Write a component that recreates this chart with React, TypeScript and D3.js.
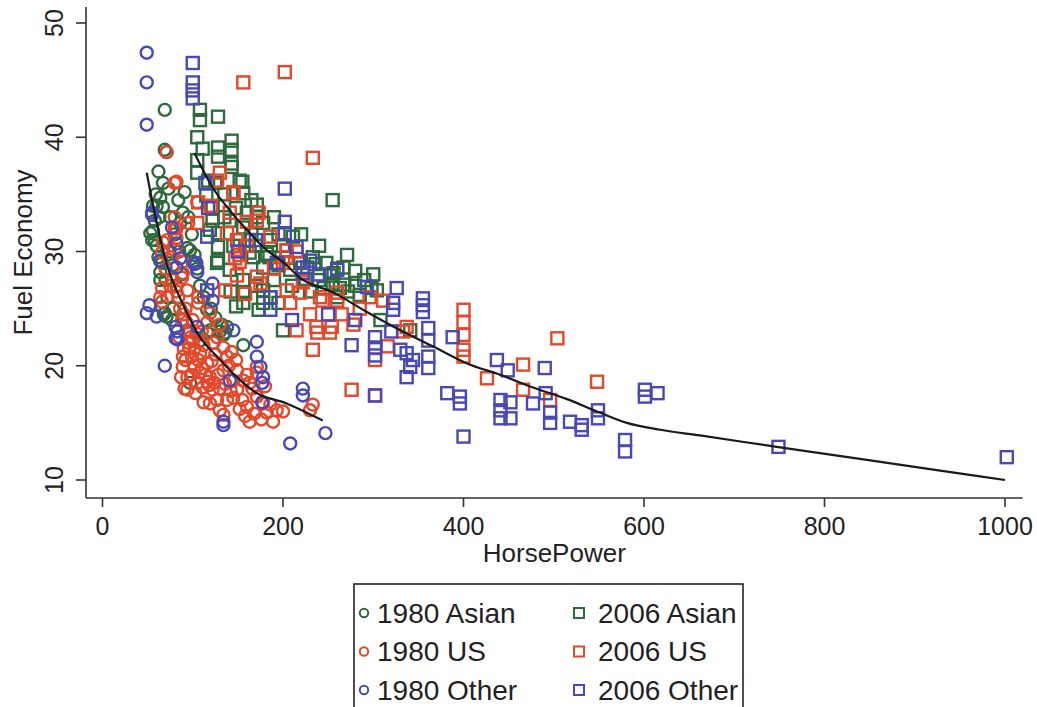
import React, { useEffect, useRef } from 'react';
import * as d3 from 'd3';

// [horsepower, fuel economy]
const asian1980 = [
  [69, 42.4], [71, 38.7], [69, 38.9], [62, 37], [67, 36], [64, 34.7], [67, 33.9], [91, 35.2],
  [58, 32.7], [89, 33.4], [95, 33], [53, 31.6], [56, 31.8], [55, 31], [97, 30.1], [94, 30.3],
  [66, 29], [64, 28.2], [100, 29.1], [105, 28.5], [102, 29.7], [66, 25.1], [71, 24.3], [138, 23.4],
  [134, 22.7], [116, 22.9], [97, 18.5], [60, 30.5], [62, 29.5], [70, 27.5], [72, 26], [68, 24.5],
  [75, 33], [80, 31.5], [85, 30], [88, 28], [78, 28.8], [60, 34], [56, 34], [73, 35.5],
  [112, 26], [120, 25], [125, 24.2], [130, 23], [108, 27], [78, 25], [64, 29.2], [64, 27.5],
  [69, 24.6], [77, 24], [116, 24.9], [108, 22.2], [132, 23.6], [156, 21.8], [119, 23.1], [136, 22.9],
  [59, 35], [63, 33], [58, 31], [86, 32.5], [99, 31.5], [74, 30], [82, 27], [84, 34.5],
];

const us1980 = [
  [71, 38.7], [80, 36], [82, 36.1], [105, 34.3], [80, 33], [82, 32], [95, 32.5], [67, 30.8],
  [80, 32.1], [82, 31.2], [66, 29.9], [89, 28.1], [80, 30.1], [89, 29.1], [66, 25.6], [88, 27.7],
  [94, 26.6], [106, 26], [106, 25.5], [119, 24.6], [88, 24], [94, 23.1], [100, 22.2], [89, 20.8],
  [89, 19.9], [94, 19], [91, 18], [108, 21.1], [116, 20.2], [119, 19], [111, 18.1], [122, 17.9],
  [134, 19.6], [138, 20.8], [134, 21.6], [127, 22.5], [130, 23.6], [116, 23.8], [149, 19.6], [156, 18.7],
  [163, 18.5], [171, 19.9], [171, 19.4], [149, 17.9], [138, 17], [130, 16.1], [134, 15.7], [163, 15.1],
  [160, 16.4], [182, 15.9], [189, 15.1], [193, 16.1], [233, 16.6], [230, 16.1], [171, 17.3], [178, 16.7],
  [108, 19.4], [105, 18.5], [116, 18.6], [145, 18.7], [127, 17], [119, 16.7], [94, 17.9], [64, 26],
  [66, 26.8], [70, 28.5], [75, 27], [100, 24], [110, 23], [96, 21.5], [102, 20], [85, 22.5],
  [92, 25], [125, 21], [140, 20], [145, 17.2], [155, 17], [98, 19.2], [90, 21.5], [97, 23],
  [104, 22.8], [112, 21.8], [121, 20.4], [128, 19.2], [103, 17.6], [112, 16.8], [87, 19], [84, 26],
  [72, 31], [75, 29.5], [78, 27.5], [82, 26.5], [86, 25], [90, 24.5], [93, 23.8], [98, 22.5],
  [102, 21.5], [106, 20.5], [110, 19.8], [114, 19.2], [118, 18.3], [124, 18.5], [130, 18], [136, 18.4],
  [142, 17.8], [152, 16.2], [158, 15.6], [168, 15.8], [176, 15.3], [186, 16.6], [200, 16], [92, 20.5],
  [99, 20.8], [95, 22], [123, 22], [143, 21.2], [148, 20.5], [160, 19.2], [166, 18], [180, 18.2],
];

const other1980 = [
  [49, 47.4], [49, 44.8], [49, 41.1], [49, 24.6], [52, 25.3], [69, 20], [55, 33.2], [77, 32.1],
  [104, 29], [105, 28.2], [122, 27.2], [122, 25.7], [81, 23.4], [81, 22.4], [145, 23.1], [171, 22.1],
  [171, 20.8], [175, 19.9], [178, 19], [177, 18.5], [222, 18], [222, 17.4], [134, 15.1], [134, 14.8],
  [208, 13.2], [247, 14.1], [177, 16.8], [141, 18.7], [105, 23.4], [60, 24.3], [83, 23], [83, 22.3],
  [82, 30.7], [86, 29.4], [82, 28.6], [102, 28.9], [64, 29.2], [55, 33.4],
];

const asian2006 = [
  [108, 42.4], [108, 41.5], [128, 41.8], [105, 40], [143, 39.7], [143, 38.9], [111, 39], [128, 38.3],
  [143, 37.4], [105, 36.9], [155, 36.1], [125, 36], [255, 34.5], [128, 39.1], [105, 38], [143, 37.7],
  [117, 36.2], [152, 36.2], [156, 35.1], [115, 34.9], [171, 34.1], [122, 33.8], [122, 32.7], [119, 31.9],
  [160, 33.4], [171, 33], [141, 32.7], [156, 32.1], [178, 32.5], [128, 31.6], [128, 30.4], [128, 29.2],
  [152, 31], [163, 29.9], [186, 31], [211, 31.3], [204, 30.1], [233, 29.5], [248, 29], [267, 28.6],
  [271, 29.7], [256, 28.1], [219, 29], [178, 28.6], [141, 28.4], [304, 26.6], [308, 24], [341, 23.1],
  [127, 29], [156, 27.5], [156, 26.4], [156, 25.5], [178, 26.6], [178, 25.5], [200, 23.1], [167, 29.5],
  [227, 28.6], [173, 24.9], [252, 27.9], [268, 27.1], [240, 27.5], [190, 27.5], [210, 27], [230, 26.5],
  [260, 26], [280, 27], [200, 30.5], [190, 33], [165, 34.5], [135, 35], [220, 31.5], [240, 30.5],
  [290, 27.5], [300, 28], [260, 28.5], [280, 28.3], [165, 31.5], [185, 29.5], [145, 30.5], [195, 28.8],
  [135, 33], [148, 33.8], [162, 31], [170, 30.5], [182, 29.8], [195, 31.5], [208, 28.4], [225, 27.6],
  [236, 28.9], [245, 26.8], [255, 27.2], [263, 26.8], [272, 26.5], [285, 26.2], [298, 26.8], [170, 27],
  [186, 26], [195, 25.5], [142, 26.5], [148, 25.2],
];

const us2006 = [
  [156, 44.8], [202, 45.7], [233, 38.2], [130, 36.9], [127, 36.2], [145, 35.1], [141, 33.4], [171, 32.7],
  [173, 33.4], [160, 32.6], [105, 32.5], [106, 34.3], [145, 35.2], [138, 31.6], [149, 31], [152, 29.7],
  [152, 29.1], [204, 30.1], [204, 29.5], [222, 28.1], [171, 27.8], [186, 31.3], [147, 29.4], [175, 27.2],
  [200, 29], [204, 26.6], [208, 25.5], [215, 23.1], [238, 22.9], [252, 22.9], [233, 21.4], [219, 26.4],
  [244, 25.7], [260, 26.4], [149, 27.9], [158, 26.3], [136, 26.6], [222, 27.3], [400, 24.9], [400, 23.8],
  [400, 22.7], [400, 21.4], [400, 20.8], [504, 22.4], [466, 20.1], [426, 18.9], [466, 17.9], [548, 18.6],
  [276, 17.9], [302, 17.4], [316, 21.7], [302, 20.5], [337, 23.4], [333, 23], [296, 26], [311, 25.7],
  [241, 26], [260, 25.7], [278, 23.6], [254, 23.4], [237, 23.4], [496, 17], [230, 24.5], [190, 28.5],
  [265, 24.5], [285, 25], [215, 30], [160, 30.5], [120, 34],
];

const other2006 = [
  [100, 46.5], [100, 44.8], [100, 44.1], [100, 43.4], [202, 35.5], [202, 32.6], [202, 31.6], [114, 36],
  [117, 33.8], [116, 31.3], [215, 30.4], [222, 28.6], [260, 28.4], [116, 26.6], [186, 26], [186, 24.9],
  [222, 28.1], [193, 29], [230, 29.2], [293, 26.9], [326, 26.8], [322, 25.5], [322, 24.9], [355, 25.9],
  [355, 25.3], [355, 24.7], [361, 23.3], [361, 22.2], [361, 20.8], [361, 19.8], [337, 21.1], [344, 20.5],
  [341, 19.9], [337, 19], [276, 21.8], [302, 22.5], [302, 21.6], [302, 20.9], [302, 17.4], [330, 21.4],
  [388, 22.5], [382, 17.6], [396, 17.3], [396, 16.7], [400, 13.8], [437, 20.5], [449, 19.6], [490, 19.8],
  [441, 17], [441, 16.1], [452, 16.8], [441, 15.4], [452, 15.4], [477, 16.7], [491, 17.6], [496, 15.9],
  [496, 15], [518, 15.1], [531, 14.8], [531, 14.4], [549, 16.1], [549, 15.4], [579, 13.5], [579, 12.5],
  [601, 17.9], [601, 17.3], [615, 17.6], [749, 12.9], [1002, 12], [150, 30], [170, 31], [240, 28],
  [210, 24], [250, 24.5], [280, 24], [320, 23],
];

// smoothed fits
const fit1980 = [
  [49, 36.9], [58, 33.3], [67, 30.1], [75, 28], [89, 25.4], [100, 23.6], [108, 22.5], [127, 20.8],
  [149, 19], [171, 17.6], [204, 16.7], [244, 15.2],
];
const fit2006 = [
  [102, 38.6], [122, 35.6], [141, 33.6], [160, 31.9], [178, 30.4], [204, 28.8], [219, 27.7], [256, 26.4],
  [293, 24.7], [330, 23.1], [366, 21.7], [404, 20.2], [441, 19.2], [477, 18.1], [514, 17.1], [551, 15.9],
  [581, 15], [618, 14.4], [662, 13.9], [747, 12.9], [913, 11], [1000, 10],
];

const xTicks = [0, 200, 400, 600, 800, 1000];
const yTicks = [10, 20, 30, 40, 50];

const GREEN = '#2e6a3d';
const RED = '#e4482b';
const BLUE = '#4848b6';

const series = [
  { name: '1980 Asian', data: asian1980, color: GREEN, shape: 'circle' },
  { name: '1980 US', data: us1980, color: RED, shape: 'circle' },
  { name: '1980 Other', data: other1980, color: BLUE, shape: 'circle' },
  { name: '2006 Asian', data: asian2006, color: GREEN, shape: 'square' },
  { name: '2006 US', data: us2006, color: RED, shape: 'square' },
  { name: '2006 Other', data: other2006, color: BLUE, shape: 'square' },
];

const FONT = '"Liberation Sans", Arial, Helvetica, sans-serif';

export default function App() {
  const ref = useRef<SVGSVGElement>(null);

  useEffect(() => {
    const svg = d3.select(ref.current);
    svg.selectAll('*').remove();

    const x = d3.scaleLinear().domain([0, 1000]).range([102.5, 1005]);
    const y = d3.scaleLinear().domain([10, 50]).range([480, 23]);
    const axisY = 498;
    const axisX = 86;

    // axis lines
    svg.append('line')
      .attr('x1', axisX).attr('x2', x(1019.5))
      .attr('y1', axisY).attr('y2', axisY)
      .attr('stroke', '#333').attr('stroke-width', 1.6);
    svg.append('line')
      .attr('x1', axisX).attr('x2', axisX)
      .attr('y1', axisY).attr('y2', y(51.4))
      .attr('stroke', '#333').attr('stroke-width', 1.6);

    // x ticks
    const gx = svg.append('g');
    gx.selectAll('line').data(xTicks).enter().append('line')
      .attr('x1', d => x(d)).attr('x2', d => x(d))
      .attr('y1', axisY).attr('y2', axisY + 9)
      .attr('stroke', '#333').attr('stroke-width', 1.6);
    gx.selectAll('text').data(xTicks).enter().append('text')
      .attr('x', d => x(d)).attr('y', 535)
      .attr('text-anchor', 'middle')
      .attr('font-family', FONT).attr('font-size', 25).attr('fill', '#222')
      .text(d => d);

    // y ticks
    const gy = svg.append('g');
    gy.selectAll('line').data(yTicks).enter().append('line')
      .attr('x1', axisX - 10).attr('x2', axisX)
      .attr('y1', d => y(d)).attr('y2', d => y(d))
      .attr('stroke', '#333').attr('stroke-width', 1.6);
    gy.selectAll('text').data(yTicks).enter().append('text')
      .attr('transform', d => `translate(63,${y(d)}) rotate(-90)`)
      .attr('text-anchor', 'middle')
      .attr('font-family', FONT).attr('font-size', 25).attr('fill', '#222')
      .text(d => d);

    // axis titles
    svg.append('text')
      .attr('x', (axisX + x(1019.5)) / 2).attr('y', 562)
      .attr('text-anchor', 'middle')
      .attr('font-family', FONT).attr('font-size', 26).attr('fill', '#222')
      .text('HorsePower');
    svg.append('text')
      .attr('transform', `translate(32,${(axisY + y(51.4)) / 2}) rotate(-90)`)
      .attr('text-anchor', 'middle')
      .attr('font-family', FONT).attr('font-size', 26).attr('fill', '#222')
      .text('Fuel Economy');

    // markers
    series.forEach(s => {
      const g = svg.append('g');
      if (s.shape === 'circle') {
        g.selectAll('circle').data(s.data).enter().append('circle')
          .attr('cx', d => x(d[0])).attr('cy', d => y(d[1]))
          .attr('r', 6)
          .attr('fill', 'none').attr('stroke', s.color).attr('stroke-width', 2.4);
      } else {
        g.selectAll('rect').data(s.data).enter().append('rect')
          .attr('x', d => x(d[0]) - 6).attr('y', d => y(d[1]) - 6)
          .attr('width', 12).attr('height', 12)
          .attr('fill', 'none').attr('stroke', s.color).attr('stroke-width', 2.4);
      }
    });

    // fitted lines
    const line = d3.line<number[]>()
      .x(d => x(d[0])).y(d => y(d[1]))
      .curve(d3.curveMonotoneX);
    [fit1980, fit2006].forEach(f => {
      svg.append('path')
        .attr('d', line(f))
        .attr('fill', 'none').attr('stroke', '#1a1a1a').attr('stroke-width', 2.2);
    });

    // legend
    const lg = svg.append('g');
    lg.append('rect')
      .attr('x', 354).attr('y', 584).attr('width', 389).attr('height', 160)
      .attr('fill', 'white').attr('stroke', '#222').attr('stroke-width', 1.6);
    series.forEach((s, i) => {
      const col = Math.floor(i / 3);
      const row = i % 3;
      const cy = 613 + row * 38.5;
      const mx = col === 0 ? 364 : 579;
      const tx = col === 0 ? 377 : 598;
      if (s.shape === 'circle') {
        lg.append('circle').attr('cx', mx).attr('cy', cy).attr('r', 4.2)
          .attr('fill', 'none').attr('stroke', s.color).attr('stroke-width', 2);
      } else {
        lg.append('rect').attr('x', mx - 5).attr('y', cy - 5).attr('width', 10).attr('height', 10)
          .attr('fill', 'none').attr('stroke', s.color).attr('stroke-width', 2);
      }
      lg.append('text')
        .attr('x', tx).attr('y', cy + 9.5)
        .attr('font-family', FONT).attr('font-size', 28).attr('fill', '#222')
        .text(s.name);
    });
  }, []);

  return (
    <svg ref={ref} width={1037} height={707}
      style={{ position: 'absolute', left: 0, top: 0, background: 'white' }} />
  );
}
